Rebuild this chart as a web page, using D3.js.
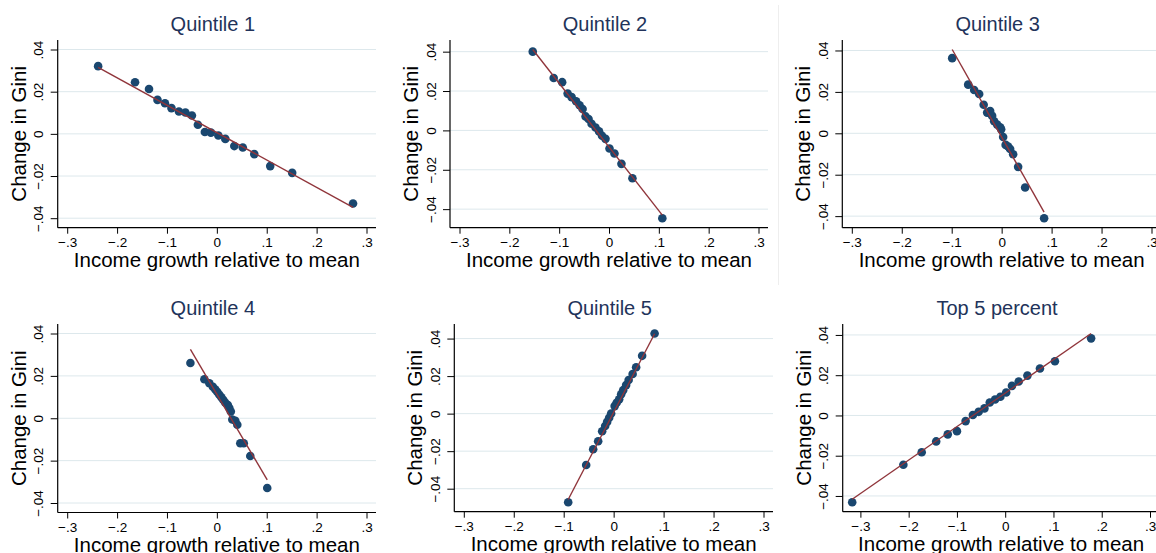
<!DOCTYPE html>
<html>
<head>
<meta charset="utf-8">
<script src="https://cdn.jsdelivr.net/npm/d3@7"></script>
<style>
  html, body { margin: 0; padding: 0; background: #ffffff; }
  svg { display: block; font-family: "Liberation Sans", Arial, Helvetica, sans-serif; }
</style>
</head>
<body>
<svg id="chart" width="1156" height="553"></svg>
<script>
// ---------------- DATA ----------------
const panelTitles = ["Quintile 1", "Quintile 2", "Quintile 3", "Quintile 4", "Quintile 5", "Top 5 percent"];
const xTickValues = [-0.3, -0.2, -0.1, 0, 0.1, 0.2, 0.3];
const xTickLabels = ["\u2212.3", "\u2212.2", "\u2212.1", "0", ".1", ".2", ".3"];
const yTickValues = [-0.04, -0.02, 0, 0.02, 0.04];
const yTickLabels = ["\u2212.04", "\u2212.02", "0", ".02", ".04"];
const xAxisTitle = "Income growth relative to mean";
const yAxisTitle = "Change in Gini";

const q1X = [-0.238, -0.164, -0.136, -0.119, -0.104, -0.091, -0.076, -0.063, -0.050, -0.038, -0.024, -0.012, 0.003, 0.017, 0.035, 0.052, 0.075, 0.107, 0.151, 0.273];
const q1Y = [0.0321, 0.0245, 0.0213, 0.0161, 0.0145, 0.0122, 0.0106, 0.0101, 0.0087, 0.0043, 0.0009, 0.0006, -0.0008, -0.0024, -0.0058, -0.0065, -0.0096, -0.0153, -0.0185, -0.0330];

const q2X = [-0.153, -0.111, -0.094, -0.083, -0.075, -0.066, -0.059, -0.053, -0.047, -0.041, -0.035, -0.027, -0.020, -0.014, -0.007, 0.001, 0.011, 0.025, 0.047, 0.107];
const q2Y = [0.0400, 0.0266, 0.0245, 0.0187, 0.0169, 0.0148, 0.0128, 0.0109, 0.0071, 0.0058, 0.0034, 0.0015, -0.0005, -0.0027, -0.0043, -0.0092, -0.0117, -0.0170, -0.0243, -0.0446];

const q3X = [-0.099, -0.067, -0.055, -0.045, -0.036, -0.029, -0.023, -0.019, -0.015, -0.009, -0.003, -0.001, 0.003, 0.008, 0.013, 0.017, 0.023, 0.033, 0.047, 0.085];
const q3Y = [0.0363, 0.0235, 0.0209, 0.0190, 0.0138, 0.0100, 0.0108, 0.0084, 0.0058, 0.0042, 0.0029, 0.0019, -0.0018, -0.0056, -0.0064, -0.0076, -0.0101, -0.0162, -0.0262, -0.0410];

const q4X = [-0.053, -0.025, -0.015, -0.008, -0.003, 0.001, 0.005, 0.009, 0.013, 0.017, 0.022, 0.025, 0.028, 0.031, 0.037, 0.041, 0.047, 0.054, 0.067, 0.101];
const q4Y = [0.0261, 0.0184, 0.0165, 0.0149, 0.0136, 0.0124, 0.0111, 0.0099, 0.0086, 0.0073, 0.0062, 0.0048, 0.0032, -0.0006, -0.0012, -0.0031, -0.0118, -0.0118, -0.0178, -0.0329];

const q5X = [-0.091, -0.055, -0.041, -0.031, -0.023, -0.017, -0.013, -0.009, -0.005, 0.002, 0.006, 0.011, 0.015, 0.019, 0.025, 0.030, 0.038, 0.045, 0.057, 0.082];
const q5Y = [-0.0472, -0.0274, -0.0190, -0.0147, -0.0094, -0.0066, -0.0044, -0.0022, 0.0001, 0.0040, 0.0058, 0.0076, 0.0103, 0.0125, 0.0152, 0.0179, 0.0211, 0.0247, 0.0308, 0.0427];

const top5X = [-0.317, -0.211, -0.173, -0.143, -0.119, -0.100, -0.082, -0.067, -0.055, -0.043, -0.032, -0.021, -0.010, 0.002, 0.014, 0.028, 0.046, 0.072, 0.103, 0.178];
const top5Y = [-0.0431, -0.0245, -0.0183, -0.0129, -0.0094, -0.0078, -0.0028, 0.0002, 0.0018, 0.0035, 0.0064, 0.0079, 0.0093, 0.0114, 0.0147, 0.0169, 0.0198, 0.0233, 0.0269, 0.0383];

// fitted line (linear fit)
const fitIntercepts = [0.0006, -0.0084, -0.0018, 0.0113, 0.0007, 0.0111];
const fitSlopes = [-0.130, -0.3235, -0.427, -0.400, 0.5106, 0.1664];

const seriesX = [q1X, q2X, q3X, q4X, q5X, top5X];
const seriesY = [q1Y, q2Y, q3Y, q4Y, q5Y, top5Y];

// ---------------- LAYOUT ----------------
const frames = [
  {L: 57.7,  R: 376,    T: 40,  B: 227.7},
  {L: 450,   R: 768,    T: 40,  B: 227.7},
  {L: 842.3, R: 1161,   T: 40,  B: 227.7},
  {L: 57.7,  R: 376,    T: 324, B: 512.5},
  {L: 454.3, R: 773,    T: 324, B: 511.7},
  {L: 842.7, R: 1159.5, T: 324, B: 511.7}
];
const pad = 9.5;
const colors = {
  point: "#1a476f",
  fit: "#90353b",
  grid: "#dde8ec",
  title: "#22335a",
  text: "#000000",
  axis: "#000000"
};

const svg = d3.select("#chart");

// faint separator line between subgraph regions
svg.append("line")
  .attr("x1", 778.5).attr("x2", 778.5)
  .attr("y1", 5).attr("y2", 285)
  .attr("stroke", "#eeeeee").attr("stroke-width", 1);

panelTitles.forEach((title, i) => {
  const f = frames[i];
  const xs = seriesX[i], ys = seriesY[i];
  const xMin = d3.min(xs), xMax = d3.max(xs);
  const fitY = x => fitIntercepts[i] + fitSlopes[i] * x;
  const yAll = ys.concat([fitY(xMin), fitY(xMax)]);

  const x = d3.scaleLinear()
    .domain([Math.min(-0.3, xMin), Math.max(0.3, xMax)])
    .range([f.L + pad, f.R - pad]);
  const y = d3.scaleLinear()
    .domain([Math.min(-0.04, d3.min(yAll)), Math.max(0.04, d3.max(yAll))])
    .range([f.B - pad, f.T + pad]);

  const g = svg.append("g");

  // gridlines
  g.selectAll("line.grid").data(yTickValues).join("line")
    .attr("class", "grid")
    .attr("x1", f.L).attr("x2", f.R)
    .attr("y1", d => y(d)).attr("y2", d => y(d))
    .attr("stroke", colors.grid).attr("stroke-width", 1);

  // x axis
  const xAxis = d3.axisBottom(x).tickValues(xTickValues)
    .tickFormat((d, k) => xTickLabels[k]).tickSize(6).tickSizeOuter(0);
  const gx = g.append("g").attr("transform", `translate(0,${f.B})`).call(xAxis);
  gx.select(".domain").remove();
  gx.selectAll(".tick line").attr("stroke", colors.axis).attr("stroke-width", 1);
  gx.selectAll(".tick text").attr("fill", colors.text).attr("font-size", 13.5)
    .attr("font-family", "Liberation Sans, Arial, sans-serif").attr("dy", null).attr("y", 19);
  g.append("line").attr("x1", f.L).attr("x2", f.R).attr("y1", f.B).attr("y2", f.B)
    .attr("stroke", colors.axis).attr("stroke-width", 1.2);

  // y axis
  const yAxis = d3.axisLeft(y).tickValues(yTickValues)
    .tickFormat((d, k) => yTickLabels[k]).tickSize(7).tickSizeOuter(0);
  const gy = g.append("g").attr("transform", `translate(${f.L},0)`).call(yAxis);
  gy.select(".domain").remove();
  gy.selectAll(".tick line").attr("stroke", colors.axis).attr("stroke-width", 1);
  gy.selectAll(".tick text")
    .attr("fill", colors.text).attr("font-size", 13.5)
    .attr("font-family", "Liberation Sans, Arial, sans-serif")
    .attr("x", null).attr("dy", null)
    .attr("text-anchor", "middle")
    .attr("transform", "translate(-14.5,0) rotate(-90)");
  g.append("line").attr("x1", f.L).attr("x2", f.L).attr("y1", f.T).attr("y2", f.B)
    .attr("stroke", colors.axis).attr("stroke-width", 1.2);

  // axis titles
  g.append("text")
    .attr("x", (f.L + f.R) / 2).attr("y", f.B + 39.5)
    .attr("text-anchor", "middle").attr("font-size", 20.5).attr("fill", colors.text)
    .text(xAxisTitle);
  g.append("text")
    .attr("transform", `translate(${f.L - 32},${(f.T + f.B) / 2}) rotate(-90)`)
    .attr("text-anchor", "middle").attr("font-size", 20.5).attr("fill", colors.text)
    .text(yAxisTitle);

  // panel title
  g.append("text")
    .attr("x", (f.L + f.R) / 2 - 4).attr("y", f.T - 9)
    .attr("text-anchor", "middle").attr("font-size", 20).attr("fill", colors.title)
    .text(title);

  // points
  g.selectAll("circle.pt").data(xs.map((v, k) => [v, ys[k]])).join("circle")
    .attr("class", "pt")
    .attr("cx", d => x(d[0])).attr("cy", d => y(d[1]))
    .attr("r", 4.3).attr("fill", colors.point);

  // fitted line
  const line = d3.line().x(d => x(d)).y(d => y(fitY(d)));
  g.append("path").datum([xMin, xMax])
    .attr("d", line).attr("fill", "none")
    .attr("stroke", colors.fit).attr("stroke-width", 1.4);
});
</script>
</body>
</html>
